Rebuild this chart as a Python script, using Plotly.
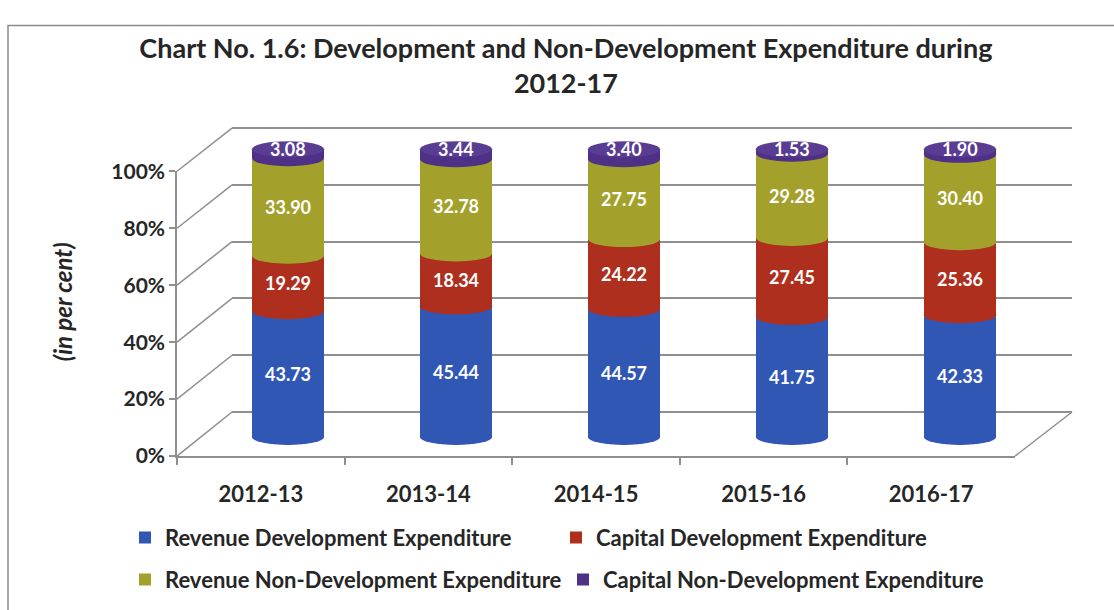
import plotly.graph_objects as go

# Data (per cent shares of total expenditure)
years = ["2012-13", "2013-14", "2014-15", "2015-16", "2016-17"]
rev_dev = [43.73, 45.44, 44.57, 41.75, 42.33]
cap_dev = [19.29, 18.34, 24.22, 27.45, 25.36]
rev_nondev = [33.90, 32.78, 27.75, 29.28, 30.40]
cap_nondev = [3.08, 3.44, 3.40, 1.53, 1.90]

pct_ticks = [0, 20, 40, 60, 80, 100]
pct_labels = ["0%", "20%", "40%", "60%", "80%", "100%"]

series_names = [
    "Revenue Development Expenditure",
    "Capital Development Expenditure",
    "Revenue Non-Development Expenditure",
    "Capital Non-Development Expenditure",
]
series_values = [rev_dev, cap_dev, rev_nondev, cap_nondev]
series_colors = ["#3157B5", "#AE2F1E", "#A3A12C", "#4E3186"]
cap_top_color = "#5A3C93"

W, H = 1114, 610
FONT = "Lato"
GRID = "#8f8f8f"
TEXT = "#262626"


def px(x):
    return x / W


def py(y):
    return 1 - y / H


def ydomain(y0_px, y100_px, lo, hi):
    """Paper domain for a 0..100 scale whose 0 and 100 sit on the given pixel rows."""
    per = (y0_px - y100_px) / 100.0
    return [py(y0_px - lo * per), py(y0_px - hi * per)]


# pixel geometry of the pseudo-3D box
FRONT_L, FRONT_R, FRONT_0, FRONT_100 = 177, 1015, 461, 164
BACK_L, BACK_R, BACK_0, BACK_100 = 232, 1072, 415, 119
BAR_0, BAR_100 = 441, 141
BAR_CENTER0, BAR_STEP = 288, 168
BAR_LO, BAR_HI = -6, 107
BACK_LO, BACK_HI = -0.6, 100.6
BAR_W = 0.43

fig = go.Figure()

# back wall grid (subplot xy, drawn first so the bars sit on top)
fig.add_trace(go.Scatter(x=[0, 1], y=[0, 100], mode="lines", line=dict(width=0),
                         hoverinfo="skip", showlegend=False, xaxis="x", yaxis="y"))

# cylinders (stacked bars on x2/y2)
for name, vals, col in zip(series_names, series_values, series_colors):
    fig.add_trace(go.Bar(
        x=years, y=vals, name=name, marker=dict(color=col, line=dict(width=0)),
        width=BAR_W, xaxis="x2", yaxis="y2",
        legend="legend" if name in series_names[:2] else "legend2",
        hoverinfo="skip",
    ))

# front axes carrying the labels (x3/y3)
fig.add_trace(go.Scatter(x=years, y=[0] * len(years), mode="markers",
                         marker=dict(opacity=0), hoverinfo="skip",
                         showlegend=False, xaxis="x3", yaxis="y3"))

# elliptical caps and segment fronts so the bars read as cylinders
ell = 2.8  # half-height of the ellipses in data units
shapes = []
for i in range(len(years)):
    cum = 0.0
    for k, vals in enumerate(series_values):
        shapes.append(dict(type="circle", xref="x2", yref="y2",
                           x0=i - BAR_W / 2, x1=i + BAR_W / 2,
                           y0=cum - ell, y1=cum + ell,
                           fillcolor=series_colors[k], line=dict(width=0),
                           layer="above"))
        cum += vals[i]
    shapes.append(dict(type="circle", xref="x2", yref="y2",
                       x0=i - BAR_W / 2, x1=i + BAR_W / 2,
                       y0=cum - ell, y1=cum + ell,
                       fillcolor=cap_top_color, line=dict(width=0), layer="above"))

# receding lines joining the front axis ticks to the back wall
for v in pct_ticks:
    yf = FRONT_0 - (FRONT_0 - FRONT_100) * v / 100
    yb = BACK_0 - (BACK_0 - BACK_100) * v / 100
    shapes.append(dict(type="line", xref="paper", yref="paper",
                       x0=px(FRONT_L), y0=py(yf), x1=px(BACK_L), y1=py(yb),
                       line=dict(color=GRID, width=1.5), layer="below"))
shapes.append(dict(type="line", xref="paper", yref="paper",
                   x0=px(FRONT_R), y0=py(FRONT_0), x1=px(BACK_R), y1=py(BACK_0),
                   line=dict(color=GRID, width=1.5), layer="below"))
# outer chart border
shapes.append(dict(type="rect", xref="paper", yref="paper",
                   x0=px(8), y0=-0.02, x1=1.02, y1=py(12),
                   line=dict(color="#8a8a8a", width=1.5), layer="below"))

# value labels centred in each segment
annotations = []
for i, yr in enumerate(years):
    cum = 0.0
    for k, vals in enumerate(series_values):
        v = vals[i]
        mid = cum + v / 2
        if k == 3:
            mid = cum + v + 0.2
        annotations.append(dict(x=yr, y=mid, xref="x2", yref="y2",
                                text=f"{v:.2f}", showarrow=False,
                                font=dict(family=FONT, size=18, color="white",
                                          weight="bold")))
        cum += v

annotations.append(dict(x=px(46), y=py(300), xref="paper", yref="paper",
                        text="<i>(in per cent)</i>", textangle=-90, showarrow=False,
                        font=dict(family=FONT, size=24, color=TEXT, weight="bold")))

legend_font = dict(family=FONT, size=22, color=TEXT, weight="bold")

fig.update_layout(
    width=W, height=H, autosize=False,
    margin=dict(l=0, r=0, t=0, b=0),
    paper_bgcolor="white", plot_bgcolor="rgba(0,0,0,0)",
    barmode="stack", bargap=0,
    font=dict(family=FONT, color=TEXT),
    title=dict(
        text="<b>Chart No. 1.6: Development and Non-Development Expenditure during<br>2012-17</b>",
        x=0.508, xanchor="center", y=py(46), yanchor="top", yref="paper",
        font=dict(family=FONT, size=27, color=TEXT),
    ),
    xaxis=dict(domain=[px(BACK_L), px(BACK_R)], range=[0, 1], visible=False),
    yaxis=dict(domain=ydomain(BACK_0, BACK_100, BACK_LO, BACK_HI),
               range=[BACK_LO, BACK_HI], tickvals=pct_ticks,
               showgrid=True, gridcolor=GRID, gridwidth=1.5,
               zeroline=False, showticklabels=False, ticks="", showline=False),
    xaxis2=dict(domain=[px(BAR_CENTER0 - BAR_STEP / 2),
                        px(BAR_CENTER0 + BAR_STEP * 4.5)],
                range=[-0.5, 4.5], visible=False, anchor="y2",
                type="category", categoryorder="array", categoryarray=years),
    yaxis2=dict(domain=ydomain(BAR_0, BAR_100, BAR_LO, BAR_HI),
                range=[BAR_LO, BAR_HI], visible=False, anchor="x2"),
    xaxis3=dict(domain=[px(FRONT_L), px(FRONT_R)], range=[-0.5, 4.5], anchor="y3",
                type="category", categoryorder="array", categoryarray=years,
                showline=True, linecolor=GRID, linewidth=1.5,
                ticks="outside", tickson="boundaries", ticklen=7,
                tickcolor=GRID, tickwidth=1.5, showgrid=False,
                ticklabelstandoff=18,
                tickfont=dict(family=FONT, size=22, color=TEXT, weight="bold")),
    yaxis3=dict(domain=[py(FRONT_0), py(FRONT_100)], range=[0, 100], anchor="x3",
                tickmode="array", tickvals=pct_ticks, ticktext=pct_labels,
                showline=True, linecolor=GRID, linewidth=1.5,
                ticks="outside", ticklen=6, tickcolor=GRID, tickwidth=1.5,
                showgrid=False, zeroline=False,
                tickfont=dict(family=FONT, size=21, color=TEXT, weight="bold")),
    legend=dict(orientation="h", x=px(125), xanchor="left", y=py(546),
                yanchor="middle", entrywidth=386, entrywidthmode="pixels",
                traceorder="normal", font=legend_font,
                bgcolor="rgba(0,0,0,0)", itemclick=False),
    legend2=dict(orientation="h", x=px(125), xanchor="left", y=py(590),
                 yanchor="middle", entrywidth=393, entrywidthmode="pixels",
                 traceorder="normal", font=legend_font,
                 bgcolor="rgba(0,0,0,0)", itemclick=False),
    shapes=shapes,
    annotations=annotations,
    showlegend=True,
)

fig.write_html("out.html")
